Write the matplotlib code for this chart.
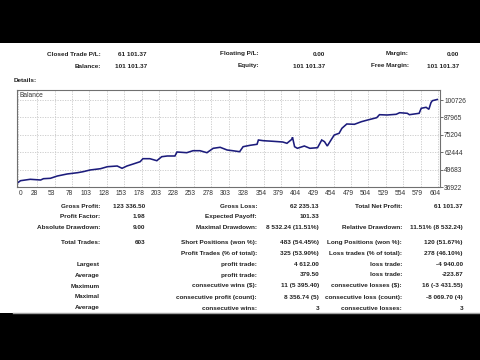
import matplotlib
matplotlib.use("Agg")
import matplotlib.pyplot as plt
from matplotlib.patches import Rectangle
from matplotlib.lines import Line2D
from matplotlib.transforms import ScaledTranslation

# ---- data ----
trades = [0, 4, 18, 33, 37, 47, 57, 71, 86, 94, 104, 119, 129, 143, 150, 157, 166, 176,
          180, 190, 200, 207, 215, 226, 229, 243, 252, 262, 272, 281, 291, 301, 309,
          319, 324, 334, 344, 346, 353, 367, 381, 387, 394, 395, 398, 402, 412, 420,
          431, 437, 441, 445, 451, 455, 462, 466, 473, 484, 494, 503, 516, 520, 531,
          544, 549, 560, 563, 577, 580, 587, 591, 594, 596, 603]
balance = [40000, 41540, 42570, 42060, 43010, 43300, 44990, 46460, 47410, 48140, 49390,
           50340, 51810, 52320, 50640, 52320, 53790, 55480, 57680, 57680, 56210, 59140,
           59660, 59660, 62590, 62080, 63540, 63540, 62080, 65300, 66040, 64060, 63540,
           62810, 66480, 67500, 68240, 71390, 70880, 70440, 69920, 68970, 71910, 73370,
           66480, 65300, 66990, 65300, 65750, 71390, 70150, 66990, 71910, 75060, 76310,
           79970, 83130, 82910, 84810, 86060, 87750, 89950, 89730, 90240, 91410, 90970,
           89950, 90970, 94640, 95370, 93910, 98750, 100210, 101101]
x_ticks = [0, 28, 53, 78, 103, 128, 153, 178, 203, 228, 253, 278, 303, 328, 354, 379,
           404, 429, 454, 479, 504, 529, 554, 579, 604]
y_ticks = [36922, 49683, 62444, 75204, 87965, 100726]

header_rows = [
    ("Closed Trade P/L:", "61 101.37", "Floating P/L:", "0.00", "Margin:", "0.00"),
    ("Balance:", "101 101.37", "Equity:", "101 101.37", "Free Margin:", "101 101.37"),
]
report_rows = [
    ("Gross Profit:", "123 336.50", "Gross Loss:", "62 235.13", "Total Net Profit:", "61 101.37"),
    ("Profit Factor:", "1.98", "Expected Payoff:", "101.33", "", ""),
    ("Absolute Drawdown:", "9.00", "Maximal Drawdown:", "8 532.24 (11.51%)", "Relative Drawdown:", "11.51% (8 532.24)"),
    ("Total Trades:", "603", "Short Positions (won %):", "483 (54.45%)", "Long Positions (won %):", "120 (51.67%)"),
    ("", "", "Profit Trades (% of total):", "325 (53.90%)", "Loss trades (% of total):", "278 (46.10%)"),
    ("Largest", "", "profit trade:", "4 612.00", "loss trade:", "-4 940.00"),
    ("Average", "", "profit trade:", "379.50", "loss trade:", "-223.87"),
    ("Maximum", "", "consecutive wins ($):", "11 (5 395.40)", "consecutive losses ($):", "16 (-3 431.55)"),
    ("Maximal", "", "consecutive profit (count):", "8 356.74 (5)", "consecutive loss (count):", "-8 069.70 (4)"),
    ("Average", "", "consecutive wins:", "3", "consecutive losses:", "3"),
]

W, H = 480, 360
plt.rcParams['font.family'] = ['Liberation Sans', 'DejaVu Sans']
fig = plt.figure(figsize=(4.8, 3.6), dpi=100, facecolor="black")

# white panel
fig.patches.append(Rectangle((0, 1 - 313 / H), 1, (313 - 43) / H,
                             transform=fig.transFigure, facecolor="white",
                             edgecolor="none", zorder=-5))
fig.lines.append(Line2D([13 / W, 1], [1 - 313 / H] * 2, transform=fig.transFigure,
                        color="#a0a0a0", lw=1.0, zorder=-4))

FS = 4.6
TXT = "#222222"

def T(x, y, s, ha="right", bold=True, size=FS):
    if s:
        fig.text(x / W, 1 - y / H, s, ha=ha, va="center", fontsize=size,
                 fontweight="bold" if bold else "normal", color=TXT)

# header
hx = [101, 147, 259, 325, 409, 459]
for yy, row in zip([54, 66], header_rows):
    for x, s in zip(hx, row):
        T(x, yy, s)

T(14, 80, "Details:", ha="left")

# report table
rx = [100, 145, 257, 319, 402, 463]
ry = [206, 216.7, 227.7, 242.7, 253.7, 264.3, 275, 286, 297, 308]
for yy, row in zip(ry, report_rows):
    for x, s in zip(rx, row):
        T(x, yy, s)

# chart
ax = fig.add_axes([17 / W, 1 - 187 / H, (440 - 17) / W, (187 - 90) / H])
ax.set_zorder(2)
ax.set_facecolor("white")
ax.plot(trades, balance, color="#1c1c7c", lw=1.15, solid_joinstyle="miter")
ax.set_xlim(-1, 607)
ax.set_ylim(36922, 108060)
ax.set_xticks(x_ticks)
ax.set_xticklabels([str(v) for v in x_ticks])
ax.set_yticks(y_ticks)
ax.set_yticklabels([str(v) for v in y_ticks])
ax.yaxis.tick_right()
ax.tick_params(axis="y", length=2, width=0.6, color="#555555", labelsize=4.8,
               labelcolor="#333333", pad=1)
ax.tick_params(axis="x", length=0, labelsize=4.8, labelcolor="#333333", pad=2.5)
for i, lab in enumerate(ax.get_xticklabels()):
    dx = 2.5 if i == 0 else -3
    lab.set_transform(lab.get_transform() + ScaledTranslation(dx / 100, 0, fig.dpi_scale_trans))
ax.grid(True, color="#c8c8c8", lw=0.6, linestyle=(0, (1.5, 1.5)))
ax.set_axisbelow(True)
for sp in ax.spines.values():
    sp.set_color("#707070")
    sp.set_linewidth(0.8)
ax.text(0.007, 0.94, "Balance", transform=ax.transAxes, fontsize=4.8,
        color="#333333", ha="left", va="center")

fig.savefig("out.png", dpi=100, facecolor="black")
